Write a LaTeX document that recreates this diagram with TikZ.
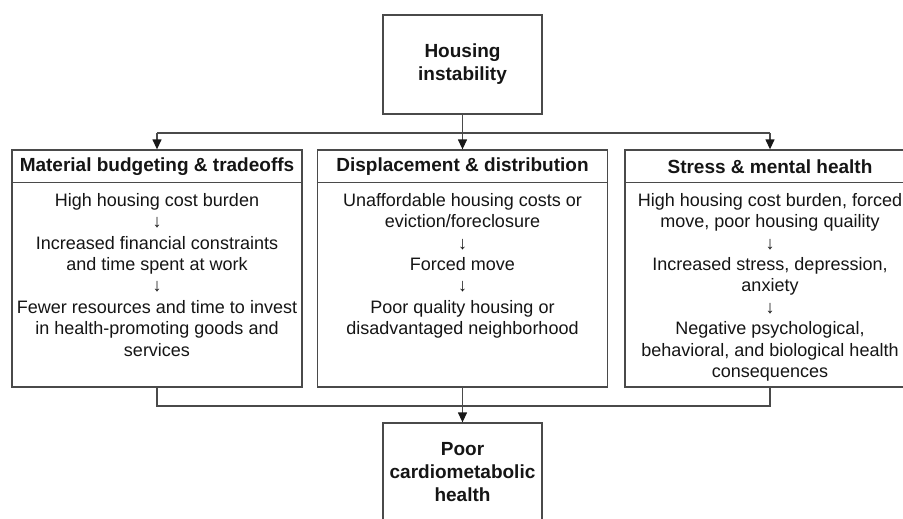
\documentclass[tikz,border=0pt]{standalone}
\usepackage{fontspec}
\setmainfont{Liberation Sans}
\usetikzlibrary{arrows.meta}
\definecolor{ln}{HTML}{4A4A4A}
\definecolor{tx}{HTML}{151515}
\tikzset{
  line/.style={draw=ln, line width=1.3pt},
  arr/.style={line, -{Triangle[width=9pt,length=10pt,color=black!90]}},
  colbox/.style={line, rectangle, minimum width=290pt, minimum height=237pt, inner sep=0pt},
  endbox/.style={line, rectangle, minimum width=159pt, minimum height=99pt, inner sep=0pt,
    align=center, text=tx, font=\fontsize{19}{23}\selectfont\bfseries},
  head/.style={inner sep=0pt, text=tx, font=\fontsize{19}{23}\selectfont\bfseries},
  body/.style={inner sep=0pt, anchor=north, align=center, text=tx, font=\fontsize{18}{21.4}\selectfont}
}
\begin{document}
\begin{tikzpicture}[x=1pt,y=-1pt]
\useasboundingbox (0,0) rectangle (903,519);
\clip (0,0) rectangle (903,519);
\fill[white] (0,0) rectangle (903,519);

\node[endbox] (top) at (462.5,64.5) {Housing\\instability};

\node[colbox] (lbox) at (157,268.5) {};
\node[colbox] (mbox) at (462.5,268.5) {};
\node[colbox] (rbox) at (770,268.5) {};

\draw[line] ([yshift=-33pt]lbox.north west) -- ([yshift=-33pt]lbox.north east);
\draw[line] ([yshift=-33pt]mbox.north west) -- ([yshift=-33pt]mbox.north east);
\draw[line] ([yshift=-33pt]rbox.north west) -- ([yshift=-33pt]rbox.north east);

\node[head] (lhead) at (157,167) {Material budgeting \& tradeoffs};
\node[head] (mhead) at (462.5,167) {Displacement \& distribution};
\node[head] (rhead) at (770,167) {Stress \& mental health};

\node[body] (ltext) at (157,193) {High housing cost burden\\↓\\Increased financial constraints\\and time spent at work\\↓\\Fewer resources and time to invest\\in health-promoting goods and\\services};
\node[body] (mtext) at (462.5,193) {Unaffordable housing costs or\\eviction/foreclosure\\↓\\Forced move\\↓\\Poor quality housing or\\disadvantaged neighborhood};
\node[body] (rtext) at (770,193) {High housing cost burden, forced\\move, poor housing quaility\\↓\\Increased stress, depression,\\anxiety\\↓\\Negative psychological,\\behavioral, and biological health\\consequences};

\node[endbox] (bot) at (462.5,472.5) {Poor\\cardiometabolic\\health};

\coordinate (tl) at (157,133);
\coordinate (tr) at (770,133);
\draw[line] (tl) -- (tr);
\draw[arr] (tl) -- (lbox.north);
\draw[arr] (tr) -- (rbox.north);
\draw[arr] (top.south) -- (mbox.north);

\coordinate (bl) at (157,406);
\coordinate (br) at (770,406);
\draw[line] (lbox.south) -- (bl) -- (br) -- (rbox.south);
\draw[arr] (mbox.south) -- (bot.north);
\end{tikzpicture}
\end{document}
